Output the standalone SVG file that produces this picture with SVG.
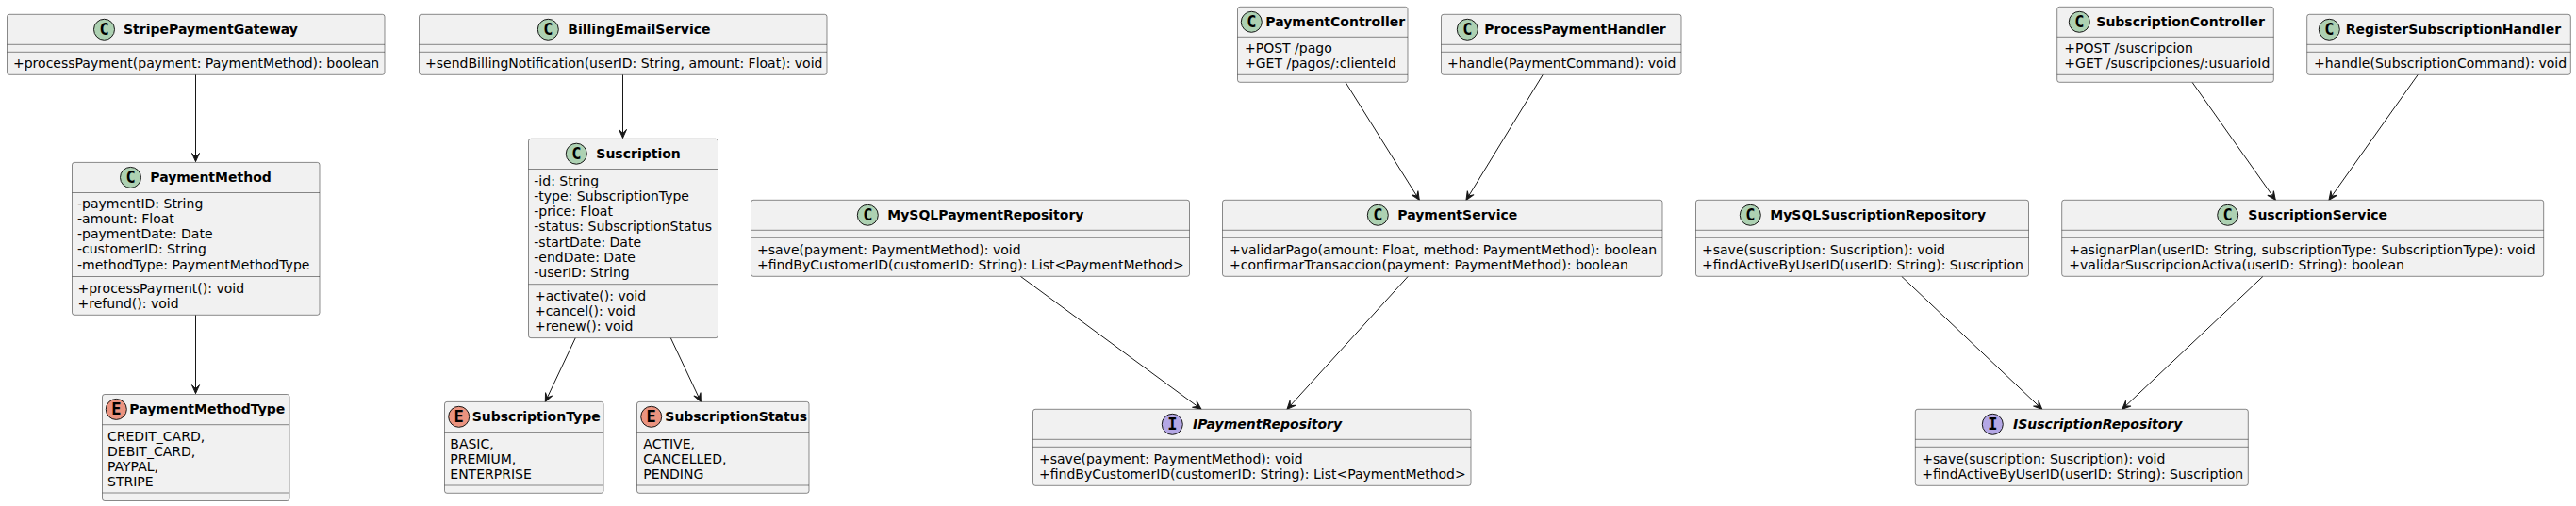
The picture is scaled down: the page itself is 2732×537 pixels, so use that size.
<svg xmlns="http://www.w3.org/2000/svg" width="2732" height="537" viewBox="0 0 2732 537">
<style>
.bx{fill:#F1F1F1;stroke:#181818;stroke-width:0.5}
.sp{stroke:#181818;stroke-width:0.5;fill:none}
.ci{stroke:#181818;stroke-width:1}
.cc{fill:#ADD1B2}.ce{fill:#EB937F}.ci2{fill:#B4A7E5}
text{font-family:"DejaVu Sans",sans-serif;font-size:14px;fill:#000}
.t{font-weight:700}
.it{font-weight:700;font-style:italic}
.g{font-family:"DejaVu Sans Mono",monospace;font-weight:700;font-size:17px;text-anchor:middle}
.c{stroke:#181818;stroke-width:1;fill:none;marker-end:url(#a)}
</style>
<defs><marker id="a" markerUnits="userSpaceOnUse" markerWidth="12" markerHeight="12" refX="10" refY="5" orient="auto" overflow="visible"><path d="M10,5 L1,1 L5,5 L1,9 Z" fill="#181818" stroke="#181818" stroke-width="1"/></marker></defs>
<rect width="2732" height="537" fill="#FFFFFF"/>
<g id="connectors">
<path class="c" d="M207.5,79.3V171.5"/>
<path class="c" d="M207.5,334.3V417.6"/>
<path class="c" d="M660.5,79.3V146.4"/>
<path class="c" d="M610.3,358.6L578.3,426.4"/>
<path class="c" d="M711.3,358.6L743.3,426.4"/>
<path class="c" d="M1082.3,293.3L1274,434.3"/>
<path class="c" d="M1493.3,293.3L1365,434.3"/>
<path class="c" d="M1427,87.3L1505.3,212.3"/>
<path class="c" d="M1636.3,79.3L1555,212.3"/>
<path class="c" d="M2016.7,293.3L2165.7,434.3"/>
<path class="c" d="M2400,293.3L2250.7,434.3"/>
<path class="c" d="M2325,87.3L2413.3,212.3"/>
<path class="c" d="M2564.3,79.3L2470,212.3"/>
</g>
<g id="StripePaymentGateway"><rect class="bx" x="7.5" y="15.3" width="400.5" height="64" rx="2.5"/><path class="sp" d="M7.5,47.3H408M7.5,55.3H408"/><circle class="ci cc" cx="110.5" cy="31.3" r="11"/><text class="g" x="110.5" y="37.3">C</text><text class="t" x="131" y="36.2">StripePaymentGateway</text><text x="14" y="71.8">+processPayment(payment: PaymentMethod): boolean</text></g>
<g id="PaymentMethod"><rect class="bx" x="76.5" y="172.4" width="262.5" height="161.9" rx="2.5"/><path class="sp" d="M76.5,204.5H339M76.5,293.5H339"/><circle class="ci cc" cx="138.5" cy="188.4" r="11"/><text class="g" x="138.5" y="194.4">C</text><text class="t" x="159.3" y="193.3">PaymentMethod</text><text x="82" y="220.9">-paymentID: String</text><text x="82" y="237">-amount: Float</text><text x="82" y="253.2">-paymentDate: Date</text><text x="82" y="269.3">-customerID: String</text><text x="82" y="285.5">-methodType: PaymentMethodType</text><text x="82.5" y="311">+processPayment(): void</text><text x="82.5" y="327">+refund(): void</text></g>
<g id="PaymentMethodType"><rect class="bx" x="108.5" y="418.5" width="198.5" height="113" rx="2.5"/><path class="sp" d="M108.5,450.7H307M108.5,523H307"/><circle class="ci ce" cx="123.3" cy="434.4" r="11"/><text class="g" x="123.3" y="440.4">E</text><text class="t" x="137.3" y="439.3">PaymentMethodType</text><text x="114" y="467.8">CREDIT_CARD,</text><text x="114" y="484">DEBIT_CARD,</text><text x="114" y="500">PAYPAL,</text><text x="114" y="516">STRIPE</text></g>
<g id="BillingEmailService"><rect class="bx" x="444.5" y="15.3" width="432.5" height="64" rx="2.5"/><path class="sp" d="M444.5,47.3H877M444.5,55.3H877"/><circle class="ci cc" cx="581.3" cy="31.3" r="11"/><text class="g" x="581.3" y="37.3">C</text><text class="t" x="602.3" y="36.2">BillingEmailService</text><text x="451" y="71.8">+sendBillingNotification(userID: String, amount: Float): void</text></g>
<g id="Suscription"><rect class="bx" x="560.5" y="147.3" width="201" height="211.3" rx="2.5"/><path class="sp" d="M560.5,179.5H761.5M560.5,301.7H761.5"/><circle class="ci cc" cx="611.3" cy="163.2" r="11"/><text class="g" x="611.3" y="169.2">C</text><text class="t" x="632.3" y="168">Suscription</text><text x="566.3" y="197">-id: String</text><text x="566.3" y="213.1">-type: SubscriptionType</text><text x="566.3" y="229.3">-price: Float</text><text x="566.3" y="245.4">-status: SubscriptionStatus</text><text x="566.3" y="261.6">-startDate: Date</text><text x="566.3" y="277.7">-endDate: Date</text><text x="566.3" y="293.9">-userID: String</text><text x="567" y="318.5">+activate(): void</text><text x="567" y="334.7">+cancel(): void</text><text x="567" y="350.8">+renew(): void</text></g>
<g id="SubscriptionType"><rect class="bx" x="471.5" y="426.4" width="168.5" height="96.9" rx="2.5"/><path class="sp" d="M471.5,458.6H640M471.5,515H640"/><circle class="ci ce" cx="486.7" cy="442.3" r="11"/><text class="g" x="486.7" y="448.3">E</text><text class="t" x="500.7" y="447.2">SubscriptionType</text><text x="477.3" y="476">BASIC,</text><text x="477.3" y="492.1">PREMIUM,</text><text x="477.3" y="508.3">ENTERPRISE</text></g>
<g id="SubscriptionStatus"><rect class="bx" x="675.5" y="426.4" width="182.5" height="96.9" rx="2.5"/><path class="sp" d="M675.5,458.6H858M675.5,515H858"/><circle class="ci ce" cx="690.7" cy="442.3" r="11"/><text class="g" x="690.7" y="448.3">E</text><text class="t" x="705.3" y="447.2">SubscriptionStatus</text><text x="682.3" y="476">ACTIVE,</text><text x="682.3" y="492.1">CANCELLED,</text><text x="682.3" y="508.3">PENDING</text></g>
<g id="MySQLPaymentRepository"><rect class="bx" x="796.5" y="212.3" width="465" height="81" rx="2.5"/><path class="sp" d="M796.5,244.3H1261.5M796.5,252.3H1261.5"/><circle class="ci cc" cx="920.3" cy="228.3" r="11"/><text class="g" x="920.3" y="234.3">C</text><text class="t" x="941.3" y="233.2">MySQLPaymentRepository</text><text x="803" y="269.8">+save(payment: PaymentMethod): void</text><text x="803" y="285.8">+findByCustomerID(customerID: String): List&lt;PaymentMethod&gt;</text></g>
<g id="IPaymentRepository"><rect class="bx" x="1095.5" y="434.3" width="464.5" height="81" rx="2.5"/><path class="sp" d="M1095.5,466.3H1560M1095.5,474.3H1560"/><circle class="ci ci2" cx="1243.3" cy="450.3" r="11"/><text class="g" x="1243.3" y="456.3">I</text><text class="it" x="1265" y="455.2">IPaymentRepository</text><text x="1102" y="491.8">+save(payment: PaymentMethod): void</text><text x="1102" y="507.8">+findByCustomerID(customerID: String): List&lt;PaymentMethod&gt;</text></g>
<g id="PaymentController"><rect class="bx" x="1312.5" y="7.3" width="180.5" height="80" rx="2.5"/><path class="sp" d="M1312.5,39.3H1493M1312.5,79.3H1493"/><circle class="ci cc" cx="1327.3" cy="23.3" r="11"/><text class="g" x="1327.3" y="29.3">C</text><text class="t" x="1342.3" y="28.2">PaymentController</text><text x="1320" y="56">+POST /pago</text><text x="1320" y="72">+GET /pagos/:clienteId</text></g>
<g id="ProcessPaymentHandler"><rect class="bx" x="1528.5" y="15.3" width="254.5" height="64" rx="2.5"/><path class="sp" d="M1528.5,47.3H1783M1528.5,55.3H1783"/><circle class="ci cc" cx="1556.3" cy="31.3" r="11"/><text class="g" x="1556.3" y="37.3">C</text><text class="t" x="1574.3" y="36.2">ProcessPaymentHandler</text><text x="1535" y="71.8">+handle(PaymentCommand): void</text></g>
<g id="PaymentService"><rect class="bx" x="1296.5" y="212.3" width="466.5" height="81" rx="2.5"/><path class="sp" d="M1296.5,244.3H1763M1296.5,252.3H1763"/><circle class="ci cc" cx="1461.3" cy="228.3" r="11"/><text class="g" x="1461.3" y="234.3">C</text><text class="t" x="1482.3" y="233.2">PaymentService</text><text x="1304" y="269.8">+validarPago(amount: Float, method: PaymentMethod): boolean</text><text x="1304" y="285.8">+confirmarTransaccion(payment: PaymentMethod): boolean</text></g>
<g id="MySQLSuscriptionRepository"><rect class="bx" x="1798.5" y="212.3" width="353" height="81" rx="2.5"/><path class="sp" d="M1798.5,244.3H2151.5M1798.5,252.3H2151.5"/><circle class="ci cc" cx="1856.3" cy="228.3" r="11"/><text class="g" x="1856.3" y="234.3">C</text><text class="t" x="1877.3" y="233.2">MySQLSuscriptionRepository</text><text x="1805" y="269.8">+save(suscription: Suscription): void</text><text x="1805" y="285.8">+findActiveByUserID(userID: String): Suscription</text></g>
<g id="ISuscriptionRepository"><rect class="bx" x="2031.3" y="434.3" width="353" height="81" rx="2.5"/><path class="sp" d="M2031.3,466.3H2384.3M2031.3,474.3H2384.3"/><circle class="ci ci2" cx="2113.3" cy="450.3" r="11"/><text class="g" x="2113.3" y="456.3">I</text><text class="it" x="2135" y="455.2">ISuscriptionRepository</text><text x="2038.3" y="491.8">+save(suscription: Suscription): void</text><text x="2038.3" y="507.8">+findActiveByUserID(userID: String): Suscription</text></g>
<g id="SubscriptionController"><rect class="bx" x="2181.7" y="7.3" width="229.6" height="80" rx="2.5"/><path class="sp" d="M2181.7,39.3H2411.3M2181.7,79.3H2411.3"/><circle class="ci cc" cx="2205.3" cy="23.3" r="11"/><text class="g" x="2205.3" y="29.3">C</text><text class="t" x="2223.3" y="28.2">SubscriptionController</text><text x="2189.3" y="56">+POST /suscripcion</text><text x="2189.3" y="72">+GET /suscripciones/:usuarioId</text></g>
<g id="RegisterSubscriptionHandler"><rect class="bx" x="2446.7" y="15.3" width="279.6" height="64" rx="2.5"/><path class="sp" d="M2446.7,47.3H2726.3M2446.7,55.3H2726.3"/><circle class="ci cc" cx="2470.3" cy="31.3" r="11"/><text class="g" x="2470.3" y="37.3">C</text><text class="t" x="2487.7" y="36.2">RegisterSubscriptionHandler</text><text x="2454" y="71.8">+handle(SubscriptionCommand): void</text></g>
<g id="SuscriptionService"><rect class="bx" x="2186.7" y="212.3" width="511" height="81" rx="2.5"/><path class="sp" d="M2186.7,244.3H2697.7M2186.7,252.3H2697.7"/><circle class="ci cc" cx="2362.7" cy="228.3" r="11"/><text class="g" x="2362.7" y="234.3">C</text><text class="t" x="2384.3" y="233.2">SuscriptionService</text><text x="2194.3" y="269.8">+asignarPlan(userID: String, subscriptionType: SubscriptionType): void</text><text x="2194.3" y="285.8">+validarSuscripcionActiva(userID: String): boolean</text></g>
</svg>
